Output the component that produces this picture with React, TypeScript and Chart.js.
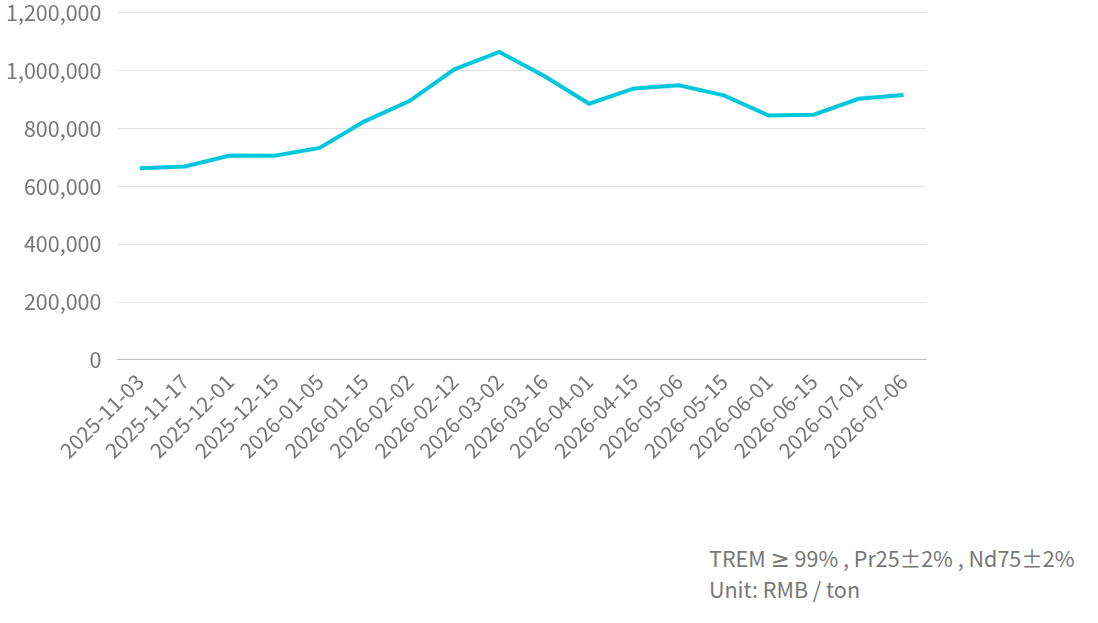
import React, { useEffect, useRef } from "react";
import Chart, { ChartConfiguration } from "chart.js/auto";

const dates = [
  "2025-11-03", "2025-11-17", "2025-12-01", "2025-12-15", "2026-01-05", "2026-01-15",
  "2026-02-02", "2026-02-12", "2026-03-02", "2026-03-16", "2026-04-01", "2026-04-15",
  "2026-05-06", "2026-05-15", "2026-06-01", "2026-06-15", "2026-07-01", "2026-07-06",
];
const prices = [
  663000, 669000, 707000, 706000, 733000, 825000,
  895000, 1005000, 1065000, 982000, 886000, 939000,
  950000, 915000, 845000, 848000, 903000, 916000,
];
const captionLines = ["TREM ≥ 99% , Pr25±2% , Nd75±2%", "Unit: RMB / ton"];

const FONT = "'Noto Sans CJK SC', 'Noto Sans', sans-serif";
const GREY = "#777777";

function PriceChart(): JSX.Element {
  const chartRef = useRef<HTMLCanvasElement | null>(null);
  const chartInstance = useRef<Chart | null>(null);

  useEffect(() => {
    if (chartRef.current) {
      const ctx = chartRef.current.getContext("2d");
      if (ctx) {
        if (chartInstance.current) chartInstance.current.destroy();

        const config: ChartConfiguration<"line"> = {
          type: "line",
          data: {
            labels: dates,
            datasets: [
              {
                data: prices,
                borderColor: "#00c8dc",
                borderWidth: 4,
                pointRadius: 0,
                tension: 0,
                fill: false,
              },
            ],
          },
          options: {
            animation: false,
            responsive: false,
            layout: { padding: { left: 0, right: 172, top: 0, bottom: 0 } },
            plugins: { legend: { display: false }, tooltip: { enabled: false } },
            scales: {
              x: {
                offset: true,
                grid: { display: false, drawTicks: false },
                border: { display: true, color: "#bfbfbf", width: 1 },
                ticks: {
                  color: GREY,
                  font: { family: FONT, size: 21 },
                  maxRotation: 45,
                  minRotation: 45,
                  padding: 9,
                  autoSkip: false,
                },
              },
              y: {
                min: 0,
                max: 1200000,
                grid: { color: "#e3e3e3", drawTicks: false },
                border: { display: false },
                ticks: {
                  stepSize: 200000,
                  color: GREY,
                  padding: 16,
                  font: { family: FONT, size: 21.5 },
                  callback: (v) => Number(v).toLocaleString("en-US"),
                },
              },
            },
          },
        };

        chartInstance.current = new Chart(ctx, config);
      }
    }
    return () => {
      chartInstance.current?.destroy();
      chartInstance.current = null;
    };
  }, []);

  return (
    <canvas
      ref={chartRef}
      width={1108}
      height={488}
      style={{ position: "absolute", left: -10, top: -16 }}
    />
  );
}

function CaptionLine({ text }: { text: string }): JSX.Element {
  const parts = text.split("≥");
  return (
    <div>
      {parts.map((p, i) => (
        <React.Fragment key={i}>
          {i > 0 && <span style={{ fontFamily: "'DejaVu Sans', sans-serif", fontSize: 23 }}>≥</span>}
          {p}
        </React.Fragment>
      ))}
    </div>
  );
}

export default function App(): JSX.Element {
  return (
    <div style={{ position: "fixed", left: 0, top: 0, width: 1098, height: 623, background: "#fff", overflow: "hidden" }}>
      <PriceChart />
      <div
        style={{
          position: "absolute",
          left: 709,
          top: 543,
          fontFamily: FONT,
          fontSize: 21.5,
          lineHeight: "29px",
          color: GREY,
          whiteSpace: "nowrap",
        }}
      >
        {captionLines.map((l) => (
          <CaptionLine key={l} text={l} />
        ))}
      </div>
    </div>
  );
}
